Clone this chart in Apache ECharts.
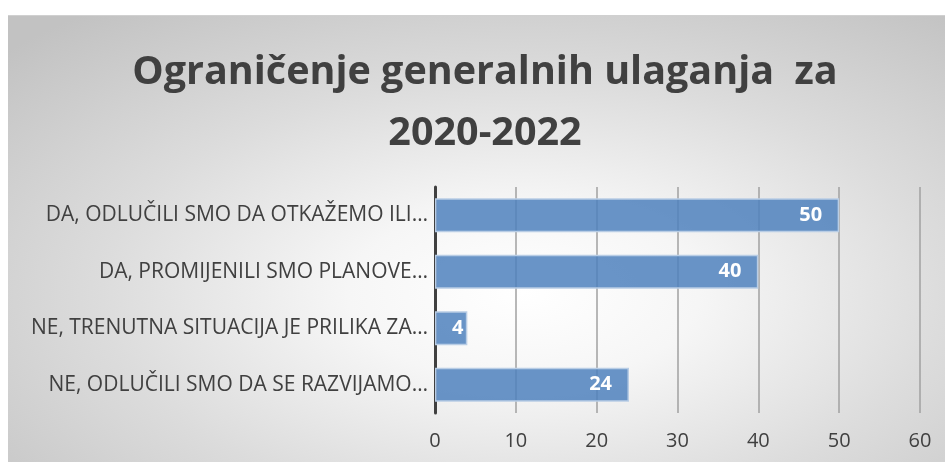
<!DOCTYPE html>
<html>
<head>
<meta charset="utf-8">
<script src="https://cdn.jsdelivr.net/npm/echarts@6/dist/echarts.min.js"></script>
<style>
  html, body { margin: 0; padding: 0; background: #fff; }
  #main {
    position: absolute; left: 8px; top: 15px; width: 937px; height: 447px;
    border-top: 1px solid #d0d0d0;
    background: radial-gradient(ellipse 75% 80% at 55% 62%, #ffffff 0%, #f6f6f6 25%, #dcdcdc 60%, #c2c2c2 100%);
  }
</style>
</head>
<body>
<div id="main"></div>
<script>
var titleText = 'Ograničenje generalnih ulaganja  za\n2020-2022';
var categories = [
    'DA, ODLUČILI SMO DA OTKAŽEMO ILI…',
    'DA, PROMIJENILI SMO PLANOVE…',
    'NE, TRENUTNA SITUACIJA JE PRILIKA ZA…',
    'NE, ODLUČILI SMO DA SE RAZVIJAMO…'
];
var values = [50, 40, 4, 24];
var xTicks = [0, 10, 20, 30, 40, 50, 60];

var myChart = echarts.init(document.getElementById('main'));

var option = {
    animation: false,
    title: {
        text: titleText,
        left: 472,
        textAlign: 'center',
        top: 21,
        textStyle: {
            fontFamily: 'Open Sans',
            fontWeight: 'bold',
            fontSize: 39.5,
            lineHeight: 61,
            color: '#404040'
        }
    },
    grid: {
        left: 427,
        right: 25,
        top: 171,
        bottom: 50
    },
    xAxis: {
        type: 'value',
        min: xTicks[0],
        max: xTicks[xTicks.length - 1],
        interval: 10,
        axisLine: { show: false },
        axisTick: { show: false },
        splitLine: { lineStyle: { color: '#a0a0a0', width: 1.5 } },
        axisLabel: {
            fontFamily: 'Open Sans',
            fontSize: 20,
            color: '#404040',
            margin: 18
        }
    },
    yAxis: {
        type: 'category',
        inverse: true,
        data: categories,
        axisLine: { show: true, lineStyle: { color: '#404040', width: 3 } },
        axisTick: { show: false },
        axisLabel: {
            fontFamily: 'Open Sans',
            fontSize: 21,
            color: '#404040',
            margin: 7
        }
    },
    series: [{
        type: 'bar',
        barCategoryGap: '40%',
        data: values.map(function (v) {
            return {
                value: v,
                label: { distance: v < 10 ? 4 : 17 }
            };
        }),
        itemStyle: {
            color: 'rgba(79,129,189,0.85)',
            borderColor: '#b9cde5',
            borderWidth: 1.5
        },
        label: {
            show: true,
            position: 'insideRight',
            fontFamily: 'Open Sans',
            fontWeight: 'bold',
            fontSize: 20,
            color: '#ffffff'
        }
    }]
};

myChart.setOption(option);
</script>
</body>
</html>
